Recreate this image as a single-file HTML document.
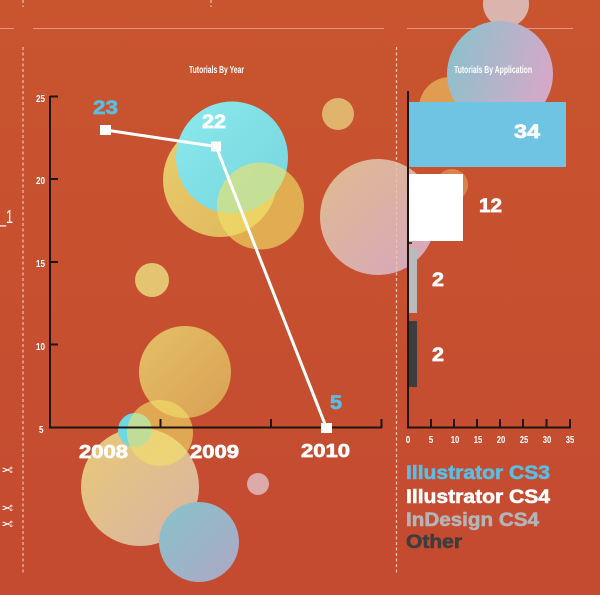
<!DOCTYPE html>
<html><head><meta charset="utf-8"><style>
html,body{margin:0;padding:0;background:#c64d30;}
svg{display:block;}
text{font-family:"Liberation Sans",sans-serif;}
</style></head><body>
<svg width="600" height="595" viewBox="0 0 600 595" xmlns="http://www.w3.org/2000/svg">
<defs>
<linearGradient id="bg" x1="0" y1="0" x2="0" y2="1"><stop offset="0" stop-color="#c9552f"/><stop offset="1" stop-color="#c44a30"/></linearGradient>
<linearGradient id="gPink" x1="0" y1="0" x2="1" y2="1"><stop offset="0" stop-color="#e0bb8e"/><stop offset="1" stop-color="#d6a6bf"/></linearGradient>
<linearGradient id="gBP" x1="0" y1="0" x2="1" y2="0.3"><stop offset="0" stop-color="#86c2cc"/><stop offset="1" stop-color="#d2aac8"/></linearGradient>
<linearGradient id="gTan" x1="0" y1="0" x2="1" y2="1"><stop offset="0" stop-color="#e8ca76"/><stop offset="1" stop-color="#dab2a6"/></linearGradient>
<linearGradient id="gBlue" x1="0" y1="0" x2="1" y2="1"><stop offset="0" stop-color="#84c4ca"/><stop offset="1" stop-color="#b0a6c4"/></linearGradient>
<linearGradient id="gCyan" x1="0" y1="0" x2="1" y2="1"><stop offset="0" stop-color="#8aeaec"/><stop offset="1" stop-color="#76d4de"/></linearGradient>
<linearGradient id="gYel" x1="0" y1="0" x2="1" y2="1"><stop offset="0" stop-color="#e8cf6c"/><stop offset="1" stop-color="#e0b45c"/></linearGradient>
<linearGradient id="gOr" x1="0" y1="0" x2="1" y2="1"><stop offset="0" stop-color="#e4c066"/><stop offset="1" stop-color="#daa055"/></linearGradient>
</defs>
<rect width="600" height="595" fill="url(#bg)"/>

<!-- guide lines -->
<g stroke="#e09a80" stroke-width="1" fill="none">
<line x1="0" y1="28.5" x2="14" y2="28.5"/>
<line x1="33" y1="28.5" x2="384" y2="28.5"/>
<line x1="407" y1="28.5" x2="573" y2="28.5"/>
</g>

<!-- bubbles -->
<circle cx="506" cy="4" r="23" fill="#dcb4ae"/>
<circle cx="450" cy="108" r="31" fill="#e09c50"/>
<circle cx="500" cy="74" r="53" fill="url(#gBP)"/>
<circle cx="452" cy="185" r="16" fill="#d8884e" opacity="0.9"/>
<circle cx="338" cy="114" r="16" fill="#e0b46c"/>
<circle cx="378" cy="217" r="58" fill="url(#gPink)"/>
<circle cx="220" cy="180" r="57" fill="url(#gYel)"/>
<circle cx="232" cy="157.5" r="56" fill="url(#gCyan)"/>
<circle cx="260.5" cy="206" r="43.5" fill="#f2e467" opacity="0.62"/>
<circle cx="152" cy="280" r="17" fill="#e4c470"/>
<circle cx="185" cy="372" r="46" fill="url(#gOr)"/>
<circle cx="140" cy="487" r="59" fill="url(#gTan)"/>
<circle cx="135" cy="430" r="17" fill="#6ed8e2"/>
<circle cx="160" cy="433" r="33" fill="#f2e06a" opacity="0.62"/>
<circle cx="199" cy="542" r="40" fill="url(#gBlue)"/>
<circle cx="258" cy="484" r="11" fill="#dcaaa8"/>

<!-- dashed verticals -->
<g stroke="#f0c2b0" stroke-width="1.2" stroke-dasharray="3,2.5" fill="none">
<line x1="23" y1="0" x2="23" y2="7"/>
<line x1="211" y1="0" x2="211" y2="7"/>
<line x1="23" y1="47" x2="23" y2="574"/>
<line x1="396.5" y1="47" x2="396.5" y2="574"/>
</g>

<!-- left margin text -->
<text x="-1" y="223" font-size="18" fill="#fff" textLength="14" lengthAdjust="spacingAndGlyphs">_1</text>
<g fill="#fff" font-size="14">
<text transform="translate(13,475) scale(-1,1)" font-family="DejaVu Sans,sans-serif">✂</text>
<text transform="translate(13,513) scale(-1,1)" font-family="DejaVu Sans,sans-serif">✂</text>
<text transform="translate(13,529) scale(-1,1)" font-family="DejaVu Sans,sans-serif">✂</text>
</g>

<!-- titles -->
<text x="189" y="73" font-size="10.5" font-weight="bold" fill="#fff" textLength="55" lengthAdjust="spacingAndGlyphs">Tutorials By Year</text>
<text x="454" y="73" font-size="10.5" font-weight="bold" fill="#fff" textLength="78" lengthAdjust="spacingAndGlyphs">Tutorials By Application</text>

<!-- left chart axes -->
<g stroke="#1e1410" stroke-width="2" fill="none">
<line x1="50" y1="96" x2="50" y2="428"/>
<line x1="49" y1="427.5" x2="382" y2="427.5"/>
<line x1="50" y1="96.5" x2="58" y2="96.5"/>
<line x1="50" y1="179" x2="58" y2="179"/>
<line x1="50" y1="262" x2="58" y2="262"/>
<line x1="50" y1="344.5" x2="58" y2="344.5"/>
<line x1="160.5" y1="419" x2="160.5" y2="428"/>
<line x1="271" y1="419" x2="271" y2="428"/>
<line x1="381.5" y1="419" x2="381.5" y2="428"/>
</g>
<g fill="#fff" font-size="10" font-weight="bold">
<text x="36" y="102" textLength="9" lengthAdjust="spacingAndGlyphs">25</text>
<text x="36" y="184" textLength="9" lengthAdjust="spacingAndGlyphs">20</text>
<text x="36" y="267" textLength="9" lengthAdjust="spacingAndGlyphs">15</text>
<text x="36" y="350" textLength="9" lengthAdjust="spacingAndGlyphs">10</text>
<text x="39" y="433" textLength="4.5" lengthAdjust="spacingAndGlyphs">5</text>
</g>

<!-- line series -->
<polyline points="105.5,130 216,146.5 326.5,428" fill="none" stroke="#fff" stroke-width="3"/>
<rect x="100" y="125" width="11" height="10" fill="#fff"/>
<rect x="211" y="141.5" width="10" height="10" fill="#fff"/>
<rect x="321" y="423" width="11" height="10" fill="#fff"/>

<g font-weight="bold" font-size="19.5" stroke-width="0.7">
<text x="93" y="114" fill="#5cbde0" stroke="#5cbde0" textLength="25" lengthAdjust="spacingAndGlyphs">23</text>
<text x="202" y="128" fill="#fff" stroke="#fff" textLength="24" lengthAdjust="spacingAndGlyphs">22</text>
<text x="330" y="409" fill="#5cbde0" stroke="#5cbde0" textLength="12" lengthAdjust="spacingAndGlyphs">5</text>
</g>
<g font-weight="bold" font-size="18.5" fill="#fff" stroke="#fff" stroke-width="0.7">
<text x="79" y="458" textLength="49" lengthAdjust="spacingAndGlyphs">2008</text>
<text x="190" y="458" textLength="49" lengthAdjust="spacingAndGlyphs">2009</text>
<text x="301" y="457" textLength="49" lengthAdjust="spacingAndGlyphs">2010</text>
</g>

<!-- bar chart -->
<rect x="408" y="102" width="158" height="65" fill="#6ec4e2"/>
<rect x="408" y="174" width="55" height="67" fill="#ffffff"/>
<rect x="408" y="248" width="9" height="65" fill="#b9babb"/>
<rect x="408" y="321" width="9" height="66" fill="#3d3d3d"/>
<g stroke="#1e1410" stroke-width="2" fill="none">
<line x1="408" y1="91" x2="408" y2="428"/>
<line x1="407" y1="427.5" x2="571" y2="427.5"/>
<line x1="408" y1="243" x2="412" y2="243" stroke-width="1.5"/>
<line x1="431" y1="419" x2="431" y2="428"/>
<line x1="454" y1="419" x2="454" y2="428"/>
<line x1="477" y1="419" x2="477" y2="428"/>
<line x1="500" y1="419" x2="500" y2="428"/>
<line x1="523" y1="419" x2="523" y2="428"/>
<line x1="546.5" y1="419" x2="546.5" y2="428"/>
<line x1="570" y1="419" x2="570" y2="428"/>
</g>
<g fill="#fff" font-size="10" font-weight="bold" text-anchor="middle">
<text x="408" y="443" textLength="4.5" lengthAdjust="spacingAndGlyphs">0</text>
<text x="431" y="443" textLength="4.5" lengthAdjust="spacingAndGlyphs">5</text>
<text x="455" y="443" textLength="8.5" lengthAdjust="spacingAndGlyphs">10</text>
<text x="478" y="443" textLength="8.5" lengthAdjust="spacingAndGlyphs">15</text>
<text x="501" y="443" textLength="8.5" lengthAdjust="spacingAndGlyphs">20</text>
<text x="524" y="443" textLength="8.5" lengthAdjust="spacingAndGlyphs">25</text>
<text x="547" y="443" textLength="8.5" lengthAdjust="spacingAndGlyphs">30</text>
<text x="570" y="443" textLength="8.5" lengthAdjust="spacingAndGlyphs">35</text>
</g>
<g fill="#fff" stroke="#fff" stroke-width="0.7" font-weight="bold" font-size="19.5">
<text x="514" y="138" textLength="26" lengthAdjust="spacingAndGlyphs">34</text>
<text x="479" y="212" textLength="23" lengthAdjust="spacingAndGlyphs">12</text>
<text x="432" y="286" textLength="12" lengthAdjust="spacingAndGlyphs">2</text>
<text x="432" y="361" textLength="12" lengthAdjust="spacingAndGlyphs">2</text>
</g>

<!-- legend -->
<g font-weight="bold" font-size="19.5" stroke-width="0.6">
<text x="406" y="479" fill="#5cbde0" stroke="#5cbde0" textLength="144" lengthAdjust="spacingAndGlyphs">Illustrator CS3</text>
<text x="406" y="503" fill="#ffffff" stroke="#ffffff" textLength="144" lengthAdjust="spacingAndGlyphs">Illustrator CS4</text>
<text x="406" y="526" fill="#b4b4b6" stroke="#b4b4b6" textLength="133" lengthAdjust="spacingAndGlyphs">InDesign CS4</text>
<text x="406" y="548" fill="#3d3d3d" stroke="#3d3d3d" textLength="56" lengthAdjust="spacingAndGlyphs">Other</text>
</g>
</svg>
</body></html>
